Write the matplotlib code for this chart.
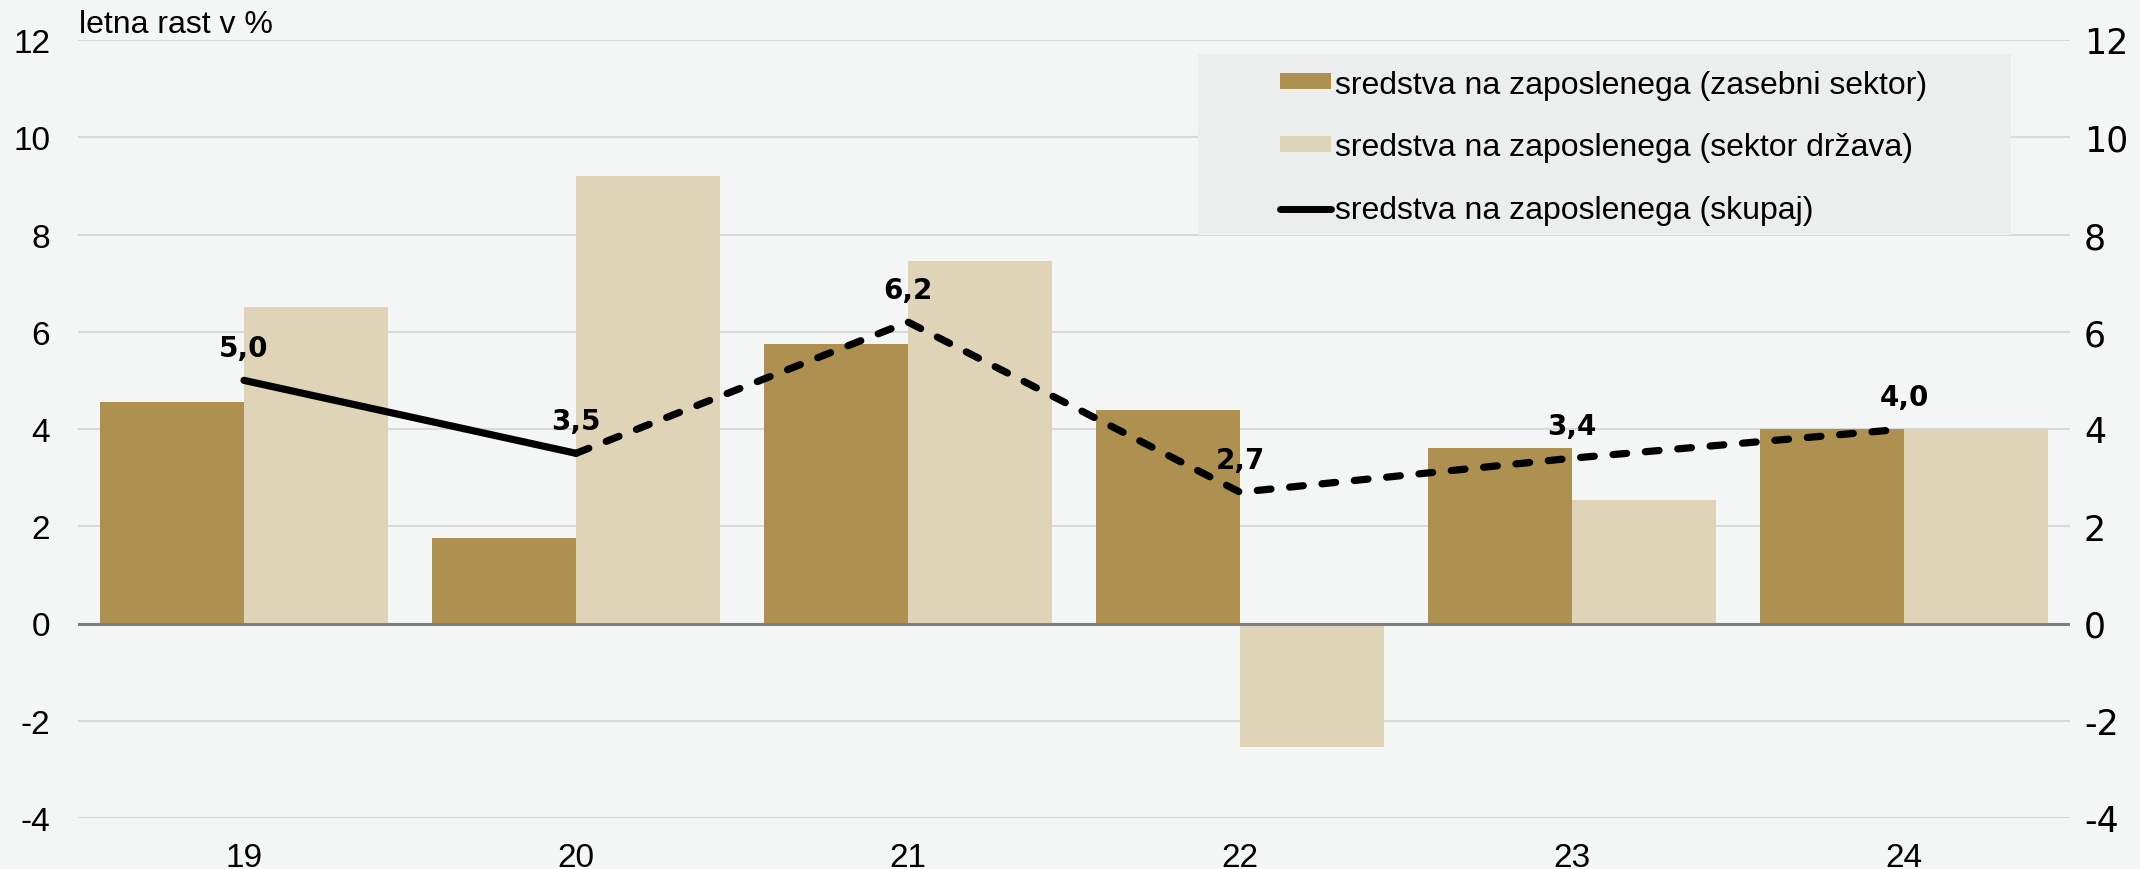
import matplotlib.pyplot as plt
from matplotlib.patches import Patch, Rectangle
from matplotlib.lines import Line2D
import numpy as np

# Data
years = ["19", "20", "21", "22", "23", "24"]
zasebni = [4.55, 1.75, 5.75, 4.4, 3.6, 4.0]
drzava = [6.5, 9.2, 7.45, -2.55, 2.55, 4.0]
skupaj = [5.0, 3.5, 6.2, 2.7, 3.4, 4.0]
yticks = [-4, -2, 0, 2, 4, 6, 8, 10, 12]

dark = "#ae9150"
light = "#dfd4b8"
narrow = ["Liberation Sans Narrow", "Liberation Sans", "DejaVu Sans"]
wide = ["DejaVu Sans"]

fig = plt.figure(figsize=(21.4, 8.7), dpi=100, facecolor="#f4f6f5")
ax = fig.add_axes([78 / 2140, 51 / 870, (2070 - 78) / 2140, (819 - 41) / 870])
ax.set_facecolor("none")

x = np.arange(len(years))
w = 0.435
ax.bar(x - w / 2, zasebni, width=w, color=dark, zorder=2)
ax.bar(x + w / 2, drzava, width=w, color=light, zorder=2)

# total line: first segment solid, then dashed
ax.plot(x[:2], skupaj[:2], color="black", lw=5.2, zorder=4,
        solid_capstyle="round", solid_joinstyle="round")
ax.plot(x[1:], skupaj[1:], color="black", lw=5.2, zorder=4, dashes=(1.9, 2.6),
        dash_capstyle="round", dash_joinstyle="round")

for xi, v in zip(x, skupaj):
    ax.annotate(f"{v:.1f}".replace(".", ","), xy=(xi, v), xytext=(0, 23),
                textcoords="offset points", ha="center", va="center",
                fontsize=20, fontweight="bold", family=wide, zorder=5)

ax.set_xlim(-0.5, len(years) - 0.5)
ax.set_ylim(-4, 12)
ax.set_yticks(yticks)
ax.set_yticklabels([str(t) for t in yticks], family=narrow, fontsize=24)
ax.set_xticks(x)
ax.set_xticklabels(years, family=narrow, fontsize=24)
ax.tick_params(axis="y", length=0, pad=20)
ax.tick_params(axis="x", length=0, pad=17)
ax.grid(axis="y", color="#d9d9d9", lw=1.5, zorder=0)
ax.axhline(0, color="#7f7f7f", lw=2.2, zorder=3)
for s in ax.spines.values():
    s.set_visible(False)

ax2 = ax.twinx()
ax2.set_ylim(-4, 12)
ax2.set_yticks(yticks)
ax2.set_yticklabels([str(t) for t in yticks], family=wide, fontsize=25)
ax2.tick_params(axis="y", length=0, pad=10)
for s in ax2.spines.values():
    s.set_visible(False)

fig.text(79 / 2140, 1 - 33 / 870, "letna rast v %", family=narrow, fontsize=23,
         va="baseline", ha="left")

# legend with its own background box
fig.patches.append(Rectangle((1198 / 2140, 1 - 236 / 870), (2011 - 1198) / 2140,
                             (236 - 55) / 870, transform=fig.transFigure,
                             facecolor="#eceeed", edgecolor="none", zorder=1))
handles = [Patch(facecolor=dark, edgecolor="none"),
           Patch(facecolor=light, edgecolor="none"),
           Line2D([0], [0], color="black", lw=5, solid_capstyle="round")]
labels = ["sredstva na zaposlenega (zasebni sektor)",
          "sredstva na zaposlenega (sektor država)",
          "sredstva na zaposlenega (skupaj)"]
leg = fig.legend(handles, labels, loc="upper left",
                 bbox_to_anchor=(1254 / 2140, 1 - 45 / 870), frameon=False,
                 prop={"family": narrow, "size": 23}, handlelength=1.6,
                 handleheight=0.4, handletextpad=0.15, labelspacing=1.03,
                 borderpad=0.3)

fig.savefig("out.png", dpi=100, facecolor=fig.get_facecolor())
